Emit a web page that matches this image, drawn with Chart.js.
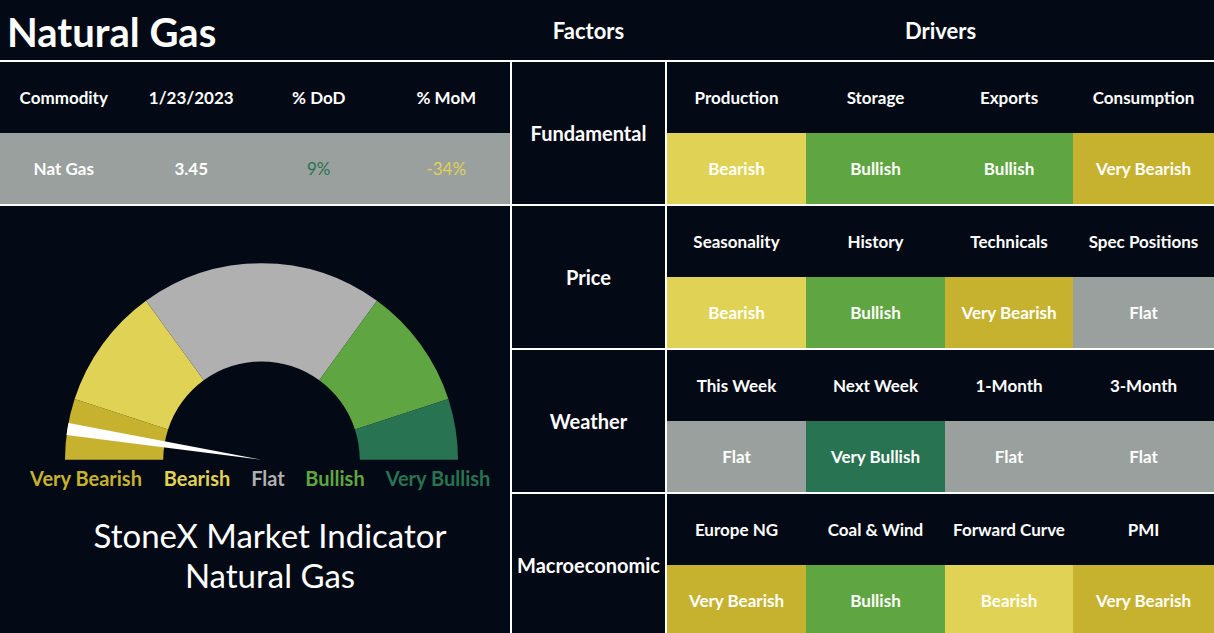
<!DOCTYPE html>
<html>
<head>
<meta charset="utf-8">
<script src="https://cdn.jsdelivr.net/npm/chart.js@4.4.1/dist/chart.umd.min.js"></script>
<style>
  html, body { margin: 0; padding: 0; }
  body { width: 1214px; height: 633px; background: #040a15; overflow: hidden; position: relative;
         font-family: "Lato", "Noto Sans", sans-serif; color: #fff; }
  .abs { position: absolute; }
  .line { position: absolute; background: #fff; }
  .cell { position: absolute; display: flex; align-items: center; justify-content: center;
          font-weight: 700; font-size: 17px; white-space: nowrap; }
  #titulo { position: absolute; left: 7px; top: 9px; font-size: 40px; font-weight: 700; line-height: 46px; }
  .topo { font-size: 22px; font-weight: 700; }
  .fator { font-size: 20px; font-weight: 700; }
  #gaugeBox { position: absolute; left: 65px; top: 263px; width: 393px; height: 197px; }
  .gl { position: absolute; top: 466px; font-size: 20px; font-weight: 700; transform: translateX(-50%); white-space: nowrap; }
  #legenda { position: absolute; left: 0; width: 540px; top: 515px; text-align: center;
             font-size: 33px; font-weight: 400; line-height: 40px; }
</style>
</head>
<body>
<div id="titulo">Natural Gas</div>
<div id="layout"></div>
<div id="gaugeBox"><canvas id="graficoGauge"></canvas></div>
<div id="rotulosGauge"></div>
<div id="legenda">StoneX Market Indicator<br>Natural Gas</div>

<script>
// dados
const gaugeLabels = ['Very Bearish', 'Bearish', 'Flat', 'Bullish', 'Very Bullish'];
const gaugeValues = [10, 20, 40, 20, 10];
const needleValue = 5;

const commodityHeaders = ['Commodity', '1/23/2023', '% DoD', '% MoM'];
const commodityRow = ['Nat Gas', '3.45', '9%', '-34%'];

const factors = ['Fundamental', 'Price', 'Weather', 'Macroeconomic'];
const drivers = [
    ['Production', 'Storage', 'Exports', 'Consumption'],
    ['Seasonality', 'History', 'Technicals', 'Spec Positions'],
    ['This Week', 'Next Week', '1-Month', '3-Month'],
    ['Europe NG', 'Coal & Wind', 'Forward Curve', 'PMI']
];
const signals = [
    ['Bearish', 'Bullish', 'Bullish', 'Very Bearish'],
    ['Bearish', 'Bullish', 'Very Bearish', 'Flat'],
    ['Flat', 'Very Bullish', 'Flat', 'Flat'],
    ['Very Bearish', 'Bullish', 'Bearish', 'Very Bearish']
];

// estilos
const corGauge = {
    'Very Bearish': '#c6b22f',
    'Bearish': '#e0d255',
    'Flat': '#b0b0b0',
    'Bullish': '#5fa642',
    'Very Bullish': '#287352'
};
const corCelula = Object.assign({}, corGauge, { 'Flat': '#9aa09e' });
const corTextoTabela = ['#ffffff', '#ffffff', '#287352', '#e0d255'];

const layout = document.getElementById('layout');

function addDiv(cls, x, y, w, h, text, extra) {
    const d = document.createElement('div');
    d.className = cls;
    d.style.left = x + 'px';
    d.style.top = y + 'px';
    d.style.width = w + 'px';
    d.style.height = h + 'px';
    if (text !== undefined) d.textContent = text;
    if (extra) Object.assign(d.style, extra);
    layout.appendChild(d);
    return d;
}

// cabeçalho
addDiv('cell topo', 512, 0, 153, 60, 'Factors');
addDiv('cell topo', 667, 0, 547, 60, 'Drivers');

// tabela da commodity
const colW = 510 / commodityHeaders.length;
commodityHeaders.forEach((h, i) => {
    addDiv('cell', i * colW, 62, colW, 71, h);
});
addDiv('abs', 0, 133, 510, 71, undefined, { background: '#9aa09e' });
commodityRow.forEach((v, i) => {
    addDiv('cell', i * colW, 133, colW, 71, v, { color: corTextoTabela[i], fontWeight: i >= 2 ? '400' : '700' });
});

// fatores e drivers
const blocoTop = [62, 206, 350, 494];
const colX = [667, 806, 945, 1073, 1214];
factors.forEach((f, b) => {
    const y = blocoTop[b];
    addDiv('cell fator', 512, y, 153, 142, f);
    drivers[b].forEach((d, c) => {
        const w = colX[c + 1] - colX[c];
        addDiv('cell', colX[c], y, w, 71, d);
        addDiv('cell', colX[c], y + 71, w, 71, signals[b][c], { background: corCelula[signals[b][c]] });
    });
});

// linhas
addDiv('line', 0, 60, 1214, 2);
addDiv('line', 0, 204, 1214, 2);
addDiv('line', 510, 348, 704, 2);
addDiv('line', 510, 492, 704, 2);
addDiv('line', 510, 60, 2, 573);
addDiv('line', 665, 60, 2, 573);

// rótulos do gauge
const rotuloX = [86, 197, 268, 335, 438];
const rotulos = document.getElementById('rotulosGauge');
gaugeLabels.forEach((l, i) => {
    const s = document.createElement('div');
    s.className = 'gl';
    s.style.left = rotuloX[i] + 'px';
    s.style.color = corGauge[l];
    s.textContent = l;
    rotulos.appendChild(s);
});

// ponteiro
const ponteiro = {
    id: 'ponteiro',
    afterDatasetsDraw(chart) {
        const arc = chart.getDatasetMeta(0).data[0];
        if (!arc) return;
        const total = gaugeValues.reduce((a, b) => a + b, 0);
        const { x, y, outerRadius } = arc.getProps(['x', 'y', 'outerRadius'], true);
        const ang = -Math.PI + (needleValue / total) * Math.PI;
        const meia = 1.8 * Math.PI / 180;
        const ctx = chart.ctx;
        ctx.save();
        ctx.beginPath();
        ctx.moveTo(x, y);
        ctx.arc(x, y, outerRadius, ang - meia, ang + meia);
        ctx.closePath();
        ctx.fillStyle = '#ffffff';
        ctx.fill();
        ctx.restore();
    }
};

new Chart(document.getElementById('graficoGauge'), {
    type: 'doughnut',
    data: {
        labels: gaugeLabels,
        datasets: [{
            data: gaugeValues,
            backgroundColor: gaugeLabels.map(l => corGauge[l]),
            borderWidth: 0
        }]
    },
    options: {
        responsive: true,
        maintainAspectRatio: false,
        animation: false,
        rotation: -90,
        circumference: 180,
        cutout: '50%',
        layout: { padding: 0 },
        plugins: {
            legend: { display: false },
            tooltip: { enabled: false }
        }
    },
    plugins: [ponteiro]
});
</script>
</body>
</html>
